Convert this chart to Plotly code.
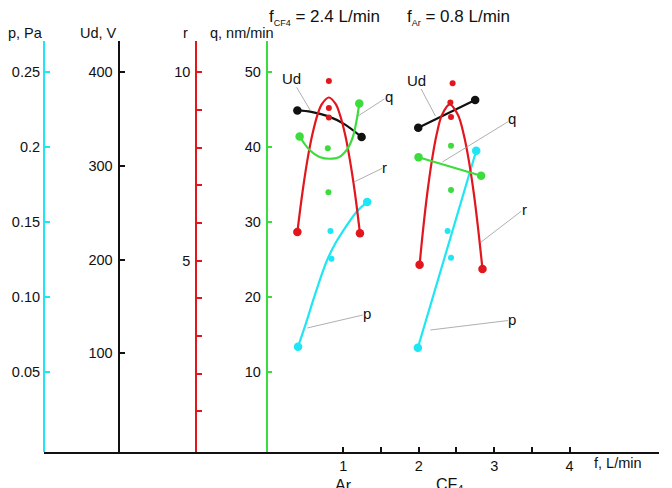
import plotly.graph_objects as go

# ---------------- data ----------------
# Left group: Ar flow varied, f_CF4 = 2.4 L/min
ud_ar_f = [0.390, 0.574, 0.794, 1.013, 1.242]
ud_ar_v = [359.3, 357.8, 353.2, 344.7, 330.8]

r_ar_f = [0.390, 0.456, 0.523, 0.588, 0.657, 0.717, 0.808, 0.897, 0.955, 1.024, 1.087, 1.154, 1.220]
r_ar_v = [5.76, 6.79, 7.67, 8.34, 8.87, 9.16, 9.33, 9.16, 8.87, 8.34, 7.67, 6.79, 5.73]
r_ar_dots_f = [0.808, 0.808, 0.808]
r_ar_dots_v = [9.77, 9.05, 8.80]

q_ar_f = [0.420, 0.552, 0.684, 0.816, 0.947, 1.058, 1.124, 1.177, 1.211]
q_ar_v = [41.44, 39.64, 38.71, 38.47, 38.71, 39.84, 41.31, 43.64, 45.84]
q_ar_dots_f = [0.794, 0.802]
q_ar_dots_v = [39.87, 34.0]

p_ar_f = [0.399, 0.509, 0.618, 0.729, 0.794, 0.904, 0.992, 1.177, 1.316]
p_ar_v = [0.0671, 0.0835, 0.1009, 0.1175, 0.1259, 0.1369, 0.1439, 0.1571, 0.1635]
p_ar_dots_f = [0.829, 0.842]
p_ar_dots_v = [0.1442, 0.1257]

# Right group: CF4 flow varied, f_Ar = 0.8 L/min
ud_cf_f = [1.993, 2.748]
ud_cf_v = [340.8, 370.4]

r_cf_f = [2.011, 2.057, 2.113, 2.175, 2.236, 2.308, 2.410, 2.519, 2.597, 2.663, 2.730, 2.789, 2.845]
r_cf_v = [4.89, 5.82, 6.79, 7.67, 8.34, 8.87, 9.15, 8.87, 8.34, 7.67, 6.79, 5.82, 4.78]
r_cf_dots_f = [2.449, 2.419, 2.428]
r_cf_dots_v = [9.71, 9.20, 8.81]

q_cf_f = [1.997, 2.827]
q_cf_v = [38.67, 36.21]
q_cf_dots_f = [2.428, 2.428]
q_cf_dots_v = [40.21, 34.31]

p_cf_f = [1.988, 2.762]
p_cf_v = [0.0664, 0.1977]
p_cf_dots_f = [2.383, 2.428]
p_cf_dots_v = [0.1442, 0.1264]

# axis ticks
p_ticks = [0.05, 0.10, 0.15, 0.2, 0.25]
p_ticktext = ["0.05", "0.10", "0.15", "0.2", "0.25"]
ud_ticks = [100, 200, 300, 400]
r_ticks = [1, 2, 3, 4, 5, 6, 7, 8, 9, 10]
r_ticktext = ["", "", "", "", "5", "", "", "", "", "10"]
q_ticks = [10, 20, 30, 40, 50]
f_ticks = [1, 1.5, 2, 2.5, 3, 3.5, 4]
f_ticktext = ["1", "", "2", "", "3", "", "4"]

# curve labels: text, head (f, q-units), offset (px)
lab_text = ["Ud", "q", "r", "p", "Ud", "q", "r", "p"]
lab_f = [0.561, 1.194, 1.141, 0.522, 2.221, 2.314, 2.827, 2.155]
lab_q = [44.93, 44.17, 35.37, 15.91, 44.17, 38.04, 27.37, 15.64]
lab_ax = [-19, 31, 31, 60, -19, 70, 43, 82]
lab_ay = [-32, -20, -15, -14, -36, -43, -33, -10]

# ---------------- styling ----------------
FONT = "Liberation Sans, Arial, sans-serif"
CYAN = "#1ee6f4"
BLACK = "#111111"
RED = "#e2161d"
GREEN = "#3ddc3d"
L, R, T, B = 40, 13, 41, 36
W, H = 672, 488
PW = W - L - R
PH = H - T - B
REF_L = 41  # left edge of plot area in the reference pixel frame


def px_x(px):
    return (px - REF_L) / PW


def px_y(py):
    return (H - B - py) / PH


fig = go.Figure()


def curve(xs, ys, color, yax, shape="spline"):
    fig.add_trace(go.Scatter(x=xs, y=ys, mode="lines", yaxis=yax,
                             line=dict(color=color, width=2.2, shape=shape),
                             hoverinfo="skip", showlegend=False))
    fig.add_trace(go.Scatter(x=[xs[0], xs[-1]], y=[ys[0], ys[-1]], mode="markers", yaxis=yax,
                             marker=dict(color=color, size=8.5),
                             hoverinfo="skip", showlegend=False))


def dots(xs, ys, color, yax):
    fig.add_trace(go.Scatter(x=xs, y=ys, mode="markers", yaxis=yax,
                             marker=dict(color=color, size=6),
                             hoverinfo="skip", showlegend=False))


# left group
curve(r_ar_f, r_ar_v, RED, "y3")
dots(r_ar_dots_f, r_ar_dots_v, RED, "y3")
curve(q_ar_f, q_ar_v, GREEN, "y4")
dots(q_ar_dots_f, q_ar_dots_v, GREEN, "y4")
curve(p_ar_f, p_ar_v, CYAN, "y")
dots(p_ar_dots_f, p_ar_dots_v, CYAN, "y")
curve(ud_ar_f, ud_ar_v, BLACK, "y2")

# right group
curve(r_cf_f, r_cf_v, RED, "y3")
dots(r_cf_dots_f, r_cf_dots_v, RED, "y3")
curve(q_cf_f, q_cf_v, GREEN, "y4", "linear")
dots(q_cf_dots_f, q_cf_dots_v, GREEN, "y4")
curve(p_cf_f, p_cf_v, CYAN, "y", "linear")
dots(p_cf_dots_f, p_cf_dots_v, CYAN, "y")
curve(ud_cf_f, ud_cf_v, BLACK, "y2", "linear")

tickfont = dict(family=FONT, size=14.5, color=BLACK)


def yaxis_common(color, lw, standoff):
    return dict(showgrid=False, zeroline=False, showline=True, linecolor=color, linewidth=lw,
                ticks="inside", ticklen=5, tickwidth=1.5, tickcolor=color,
                tickfont=tickfont, fixedrange=True, ticklabelstandoff=standoff)


fig.update_layout(
    width=W, height=H,
    margin=dict(l=L, r=R, t=T, b=B, pad=0),
    paper_bgcolor="white", plot_bgcolor="white",
    font=dict(family=FONT, size=14, color=BLACK),
    xaxis=dict(range=[-2.970, 5.186], domain=[0, 1], showgrid=False, zeroline=False,
               showline=True, linecolor=BLACK, linewidth=2,
               ticks="inside", ticklen=5, tickwidth=1.5, tickcolor=BLACK,
               tickvals=f_ticks, ticktext=f_ticktext, tickfont=tickfont, fixedrange=True),
    yaxis=dict(range=[-0.00313, 0.27087], tickvals=p_ticks, ticktext=p_ticktext,
               anchor="free", position=0, side="left", **yaxis_common(CYAN, 2, 0)),
    yaxis2=dict(range=[-5.37, 433.4], tickvals=ud_ticks, overlaying="y",
                anchor="free", position=px_x(116), side="left", **yaxis_common(BLACK, 2, 2)),
    yaxis3=dict(range=[-0.077, 10.83], tickvals=r_ticks, ticktext=r_ticktext, overlaying="y",
                anchor="free", position=px_x(194), side="left", **yaxis_common(RED, 1.5, 2)),
    yaxis4=dict(range=[-0.627, 54.17], tickvals=q_ticks, overlaying="y",
                anchor="free", position=px_x(265), side="left", **yaxis_common(GREEN, 1.5, 2)),
)

ann = []
# curve labels with leader lines
for t, fx, qy, ax, ay in zip(lab_text, lab_f, lab_q, lab_ax, lab_ay):
    ann.append(dict(x=fx, y=qy, xref="x", yref="y4", text=t, showarrow=True,
                    arrowhead=0, arrowwidth=0.8, arrowcolor="#9a9a9a", ax=ax, ay=ay,
                    font=dict(size=15, color=BLACK), borderpad=0, standoff=0))
# axis titles
for t, cx in [("p, Pa", 22), ("Ud, V", 95.5), ("r", 183), ("q, nm/min", 240.5)]:
    ann.append(dict(x=px_x(cx), y=px_y(33), xref="paper", yref="paper", text=t,
                    showarrow=False, xanchor="center", yanchor="middle",
                    font=dict(size=14.5, color=BLACK)))
# header
SUB = '<span style="font-size:9px">{}</span>'
ann.append(dict(x=px_x(265), y=px_y(17), xref="paper", yref="paper",
                text="f<sub>" + SUB.format("CF4") + "</sub> = 2.4 L/min", showarrow=False,
                xanchor="left", yanchor="middle", font=dict(size=17, color=BLACK)))
ann.append(dict(x=px_x(404), y=px_y(17), xref="paper", yref="paper",
                text="f<sub>" + SUB.format("Ar") + "</sub> = 0.8 L/min", showarrow=False,
                xanchor="left", yanchor="middle", font=dict(size=17, color=BLACK)))
# x-axis title and group names
ann.append(dict(x=px_x(619), y=px_y(463), xref="paper", yref="paper", text="f, L/min",
                showarrow=False, xanchor="center", yanchor="middle",
                font=dict(size=14.5, color=BLACK)))
ann.append(dict(x=1.0, y=px_y(486), xref="x", yref="paper", text="Ar",
                showarrow=False, xanchor="center", yanchor="middle",
                font=dict(size=16, color=BLACK)))
ann.append(dict(x=2.42, y=px_y(486), xref="x", yref="paper", text="CF<sub>4</sub>",
                showarrow=False, xanchor="center", yanchor="middle",
                font=dict(size=16, color=BLACK)))
fig.update_layout(annotations=ann)

fig.write_html("out.html", config={"displayModeBar": False})
